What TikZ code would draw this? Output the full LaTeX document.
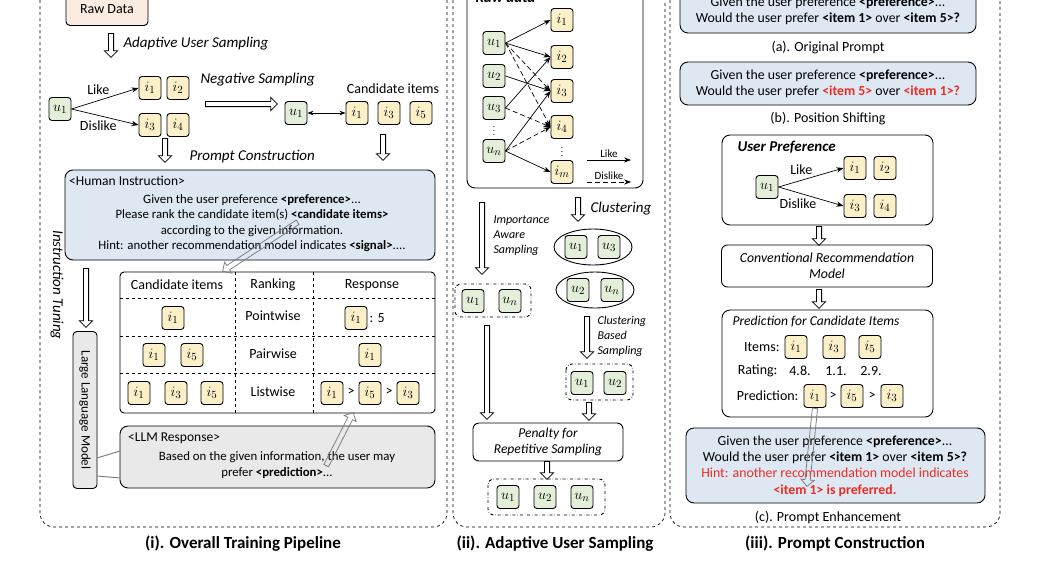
\documentclass[tikz,border=0pt]{standalone}
\usepackage{fontspec}
\setmainfont{Carlito}
\usetikzlibrary{arrows.meta,shapes.geometric,shapes.arrows,calc}
\definecolor{itemc}{HTML}{FBF0C8}
\definecolor{userc}{HTML}{E3EFD9}
\definecolor{bluec}{HTML}{DEE8F3}
\definecolor{grayc}{HTML}{E9E9E9}
\definecolor{peach}{HTML}{FBECE2}
\definecolor{redc}{HTML}{EE2B24}
\newcommand\harr[3][]{\path let \p1=(#2),\p2=(#3),\n1={atan2(\y2-\y1,\x2-\x1)},\n2={veclen(\x2-\x1,\y2-\y1)} in node[hol,#1,rotate=\n1,minimum height=\n2,anchor=tail] at (#2) {};}
\begin{document}
\begin{tikzpicture}[x=1pt,y=-1pt,
  font=\fontsize{14}{16}\selectfont,
  item/.style={draw,rounded corners=3pt,fill=itemc,minimum width=22,minimum height=23,inner sep=0,line width=0.9pt,font=\fontsize{15.5}{16}\selectfont},
  user/.style={item,fill=userc},
  panel/.style={draw,dashed,rounded corners=14pt,line width=0.7pt},
  rbox/.style={draw,rounded corners=8pt,line width=0.9pt},
  ddbox/.style={draw,dash dot,rounded corners=6pt,line width=0.9pt},
  hol/.style={single arrow,draw,fill=white,inner sep=2.2pt,single arrow head extend=4pt,single arrow head indent=0pt,line width=0.8pt,shape border uses incircle=false},
  ar/.style={-{Stealth[length=7pt]},line width=0.7pt},
  dar/.style={ar,dash pattern=on 5pt off 3pt},
  vd/.style={inner sep=0,font=\fontsize{9}{10}\selectfont},
  lab/.style={font=\fontsize{15}{17}\selectfont\itshape,anchor=west},
  slab/.style={font=\fontsize{12}{15}\selectfont\itshape,anchor=west,align=left},
  title/.style={font=\fontsize{17}{19}\selectfont\bfseries},
  body/.style={align=center,inner sep=0,font=\fontsize{12.8}{15.5}\selectfont},
  rbody/.style={align=center,inner sep=0,font=\fontsize{13.8}{16.3}\selectfont}
]
\useasboundingbox (0,0) rectangle (1051,565);
% panels
\draw[panel] (40,-20) rectangle (447,527);
\draw[panel] (453,-20) rectangle (665,527);
\draw[panel] (670,-20) rectangle (1000,527);
\node[title] (t1) at (243,544) {(i). Overall Training Pipeline};
\node[title] (t2) at (555,544) {(ii). Adaptive User Sampling};
\node[title] (t3) at (835,544) {(iii). Prompt Construction};

%% ---------- left panel
\node[rbox,fill=peach,minimum width=82,minimum height=33,rounded corners=4pt] (raw) at (107,9) {Raw Data};
\coordinate (a1s) at (111,33); \coordinate (a1e) at (111,57);
\harr{a1s}{a1e}
\node[lab] (aus) at (120,44) {Adaptive User Sampling};
\node[user] (lu1) at (60,109) {$u_1$};
\node[item] (li1) at (150,88) {$i_1$};
\node[item] (li2) at (178,88) {$i_2$};
\node[item] (li3) at (150,125) {$i_3$};
\node[item] (li4) at (178,125) {$i_4$};
\draw[ar] (lu1.east) -- (li1.west) node[pos=0.4,above=2pt] (llike) {Like};
\draw[ar] (lu1.east) -- (li3.west) node[pos=0.4,below=2pt] (ldis) {Dislike};
\node[lab] (ns) at (197,80) {Negative Sampling};
\coordinate (a2s) at (205,104); \coordinate (a2e) at (277,104);
\harr{a2s}{a2e}
\node[user] (cu1) at (296,113) {$u_1$};
\node[item] (ci1) at (357,113) {$i_1$};
\node[item] (ci3) at (389,113) {$i_3$};
\node[item] (ci5) at (421,113) {$i_5$};
\draw[{Stealth[length=6pt]}-{Stealth[length=6pt]},line width=0.7pt] (cu1) -- (ci1);
\node (candl) at (393,89) {Candidate items};
\coordinate (a3s) at (165,138); \coordinate (a3e) at (165,162);
\harr{a3s}{a3e}
\node[lab] (pc) at (186,157) {Prompt Construction};
\coordinate (a4s) at (383,134); \coordinate (a4e) at (383,160);
\harr{a4s}{a4e}
% human instruction
\draw[rbox,fill=bluec] (65,170) rectangle (435,260);
\node[anchor=west,inner sep=0,font=\fontsize{13.5}{15}\selectfont] (hi) at (69,181) {<Human Instruction>};
\node[body] (hil) at (252,223) {Given the user preference \textbf{<preference>}...\\
Please rank the candidate item(s) \textbf{<candidate items>}\\
according to the given information.\\
Hint: another recommendation model indicates \textbf{<signal>}....};
% table
\draw[rbox,rounded corners=4pt] (120,272) rectangle (435,413);
\draw[dashed,line width=0.6pt] (120,298) -- (435,298) (120,336) -- (435,336) (120,373) -- (435,373)
  (235,272) -- (235,413) (313,272) -- (313,413);
\node (h1) at (177,285) {Candidate items};
\node (h2) at (273,285) {Ranking};
\node (h3) at (372,285) {Response};
\node[item] (r1a) at (173,318) {$i_1$};
\node (r1b) at (273,316) {Pointwise};
\node[item] (r1c) at (356,318) {$i_1$};
\node[anchor=west] (r1d) at (366,318) {: 5};
\node[item] (r2a) at (154,355) {$i_1$};
\node[item] (r2b) at (192,355) {$i_5$};
\node (r2c) at (273,354) {Pairwise};
\node[item] (r2d) at (370,355) {$i_1$};
\node[item] (r3a) at (139,393) {$i_1$};
\node[item] (r3b) at (176,393) {$i_3$};
\node[item] (r3c) at (212,393) {$i_5$};
\node (r3d) at (273,392) {Listwise};
\node[item] (r3e) at (332,393) {$i_1$};
\node (g1) at (351,392) {>};
\node[item] (r3f) at (370,393) {$i_5$};
\node (g2) at (389,392) {>};
\node[item] (r3g) at (408,393) {$i_3$};
% LLM response
\draw[rbox,fill=grayc] (120,426) rectangle (435,488);
\node[anchor=west,inner sep=0,font=\fontsize{13.5}{15}\selectfont] (lr) at (128,438) {<LLM Response>};
\node[body] (lrt) at (277,465) {Based on the given information, the user may\\ prefer \textbf{<prediction>}...};
% LLM vertical
\node[draw,fill=grayc,rounded corners=4pt,line width=0.9pt,minimum width=24,minimum height=157,inner sep=0] (llm) at (85,410) {};
\node[rotate=-90,font=\fontsize{13}{15}\selectfont] (llmt) at (85,410) {Large Language Model};
\draw[gray,line width=1pt] (97,458) -- (120,451) (97,476) -- (120,478);
\node[rotate=-90,font=\fontsize{15}{17}\selectfont\itshape] (it) at (57,285) {Instruction Tuning};
\coordinate (a5s) at (86,268); \coordinate (a5e) at (86,327);
\harr{a5s}{a5e}
\coordinate (g1s) at (298,222); \coordinate (g1e) at (223,271);
\harr[draw=gray,fill=none]{g1s}{g1e}
\coordinate (g2s) at (326,466); \coordinate (g2e) at (353,413);
\harr[draw=gray,fill=none]{g2s}{g2e}

%% ---------- middle panel
\draw[rbox] (467,-20) rectangle (643,188);
\node[anchor=west,font=\fontsize{15}{17}\selectfont\bfseries\itshape] (rd) at (472,-3) {Raw data};
\node[user] (m1) at (494,43) {$u_1$};
\node[user] (m2) at (494,76) {$u_2$};
\node[user] (m3) at (494,108) {$u_3$};
\node[vd] (md) at (494,128) {$\vdots$};
\node[user] (mn) at (494,151) {$u_n$};
\node[item] (n1) at (562,20) {$i_1$};
\node[item] (n2) at (562,57) {$i_2$};
\node[item] (n3) at (562,91) {$i_3$};
\node[item] (n4) at (562,127) {$i_4$};
\node[vd] (nd) at (562,149) {$\vdots$};
\node[item] (nm) at (562,172) {$i_m$};
\draw[ar] (m1.east) -- (n1.west);
\draw[ar] (m1.east) -- (n2.west);
\draw[dar] (m1.east) -- (n3.west);
\draw[dar] (m1.east) -- (n4.west);
\draw[ar] (m2.east) -- (n3.west);
\draw[ar] (m3.east) -- (n2.west);
\draw[dar] (m3.east) -- (n4.west);
\draw[ar] (mn.east) -- (n3.west);
\draw[dar] (mn.east) -- (n4.west);
\draw[ar] (mn.east) -- (nm.west);
\coordinate (lk1) at (587,160); \coordinate (lk2) at (631,160);
\draw[ar] (lk1) -- (lk2) node[midway,above=-1pt,font=\fontsize{11}{12}\selectfont] (lkl) {Like};
\coordinate (dk1) at (587,182); \coordinate (dk2) at (631,182);
\draw[dar] (dk1) -- (dk2) node[midway,above=-1pt,font=\fontsize{11}{12}\selectfont] (dkl) {Dislike};
\coordinate (b1s) at (578,197); \coordinate (b1e) at (578,221);
\harr{b1s}{b1e}
\node[lab] (cl) at (587,209) {Clustering};
\node[draw,ellipse,line width=0.9pt,minimum width=78,minimum height=36] (e1) at (593,247) {};
\node[user] (e1a) at (576,247) {$u_1$};
\node[user] (e1b) at (609,247) {$u_3$};
\node[draw,ellipse,line width=0.9pt,minimum width=78,minimum height=36] (e2) at (595,290) {};
\node[user] (e2a) at (578,290) {$u_2$};
\node[user] (e2b) at (612,290) {$u_n$};
\coordinate (b2s) at (482,202); \coordinate (b2e) at (482,274);
\harr{b2s}{b2e}
\node[slab] (ias) at (490,236) {Importance\\Aware\\Sampling};
\draw[ddbox] (455,284) rectangle (531,317);
\node[user] (s1a) at (473,301) {$u_1$};
\node[user] (s1b) at (510,301) {$u_n$};
\coordinate (b3s) at (487,325); \coordinate (b3e) at (487,419);
\harr{b3s}{b3e}
\coordinate (b4s) at (587,316); \coordinate (b4e) at (587,358);
\harr{b4s}{b4e}
\node[slab] (cbs) at (594,336) {Clustering\\Based\\Sampling};
\draw[ddbox] (566,364) rectangle (633,400);
\node[user] (s2a) at (582,383) {$u_1$};
\node[user] (s2b) at (615,383) {$u_2$};
\coordinate (b5s) at (589,402); \coordinate (b5e) at (589,420);
\harr{b5s}{b5e}
\node[rbox,rounded corners=6pt,minimum width=150,minimum height=38,align=center,font=\fontsize{13.5}{16}\selectfont\itshape] (pen) at (548,442) {Penalty for\\Repetitive Sampling};
\coordinate (b6s) at (547,461); \coordinate (b6e) at (547,479);
\harr{b6s}{b6e}
\draw[ddbox] (488,479) rectangle (605,515);
\node[user] (f1) at (508,497) {$u_1$};
\node[user] (f2) at (545,497) {$u_2$};
\node[user] (f3) at (582,497) {$u_n$};

%% ---------- right panel
\draw[rbox,fill=bluec] (680,-20) rectangle (976,33);
\node[rbody] (pa) at (828,11) {Given the user preference \textbf{<preference>}...\\
Would the user prefer \textbf{<item 1>} over \textbf{<item 5>?}};
\node (pal) at (828,48) {(a). Original Prompt};
\draw[rbox,fill=bluec] (680,62) rectangle (976,105);
\node[rbody] (pb) at (828,84) {Given the user preference \textbf{<preference>}...\\
Would the user prefer \textcolor{redc}{\textbf{<item 5>}} over \textcolor{redc}{\textbf{<item 1>?}}};
\node (pbl) at (828,119) {(b). Position Shifting};
\draw[rbox] (722,135) rectangle (933,225);
\node[anchor=west,font=\fontsize{15}{17}\selectfont\bfseries\itshape] (up) at (734,147) {User Preference};
\node[user] (ru1) at (767,187) {$u_1$};
\node[item] (ri1) at (855,168) {$i_1$};
\node[item] (ri2) at (885,168) {$i_2$};
\node[item] (ri3) at (855,206) {$i_3$};
\node[item] (ri4) at (885,206) {$i_4$};
\draw[ar] (ru1.east) -- (ri1.west) node[pos=0.35,above=2pt] (rlike) {Like};
\draw[ar] (ru1.east) -- (ri3.west) node[pos=0.3,below=2pt] (rdis) {Dislike};
\coordinate (c1s) at (819,226); \coordinate (c1e) at (819,245);
\harr{c1s}{c1e}
\node[rbox,rounded corners=6pt,minimum width=211,minimum height=42,align=center,font=\fontsize{13.8}{16.5}\selectfont\itshape] (crm) at (827,266) {Conventional Recommendation\\Model};
\coordinate (c2s) at (819,289); \coordinate (c2e) at (819,308);
\harr{c2s}{c2e}
\draw[rbox] (722,310) rectangle (933,417);
\node[anchor=west,font=\fontsize{13.6}{15}\selectfont\itshape] (pci) at (729,322) {Prediction for Candidate Items};
\node[anchor=east] (itl) at (783,347) {Items:};
\node[item] (pi1) at (796,347) {$i_1$};
\node[item] (pi3) at (834,347) {$i_3$};
\node[item] (pi5) at (870,347) {$i_5$};
\node[anchor=east] (rtl) at (781,371) {Rating:};
\node (rt1) at (800,371) {4.8.};
\node (rt2) at (836,371) {1.1.};
\node (rt3) at (871,371) {2.9.};
\node[anchor=east] (prl) at (802,396) {Prediction:};
\node[item] (q1) at (815,396) {$i_1$};
\node (q2) at (833,396) {>};
\node[item] (q3) at (852,396) {$i_5$};
\node (q4) at (872,396) {>};
\node[item] (q5) at (892,396) {$i_3$};
\draw[rbox,fill=bluec] (686,428) rectangle (985,503);
\node[rbody] (pcb) at (835,466) {Given the user preference \textbf{<preference>}...\\
Would the user prefer \textbf{<item 1>} over \textbf{<item 5>?}\\
\textcolor{redc}{Hint: another recommendation model indicates}\\
\textcolor{redc}{\textbf{<item 1> is preferred.}}};
\node (pcl) at (828,517) {(c). Prompt Enhancement};
\coordinate (g3s) at (815,408); \coordinate (g3e) at (807,486);
\harr[draw=gray,fill=none]{g3s}{g3e}
\end{tikzpicture}
\end{document}
